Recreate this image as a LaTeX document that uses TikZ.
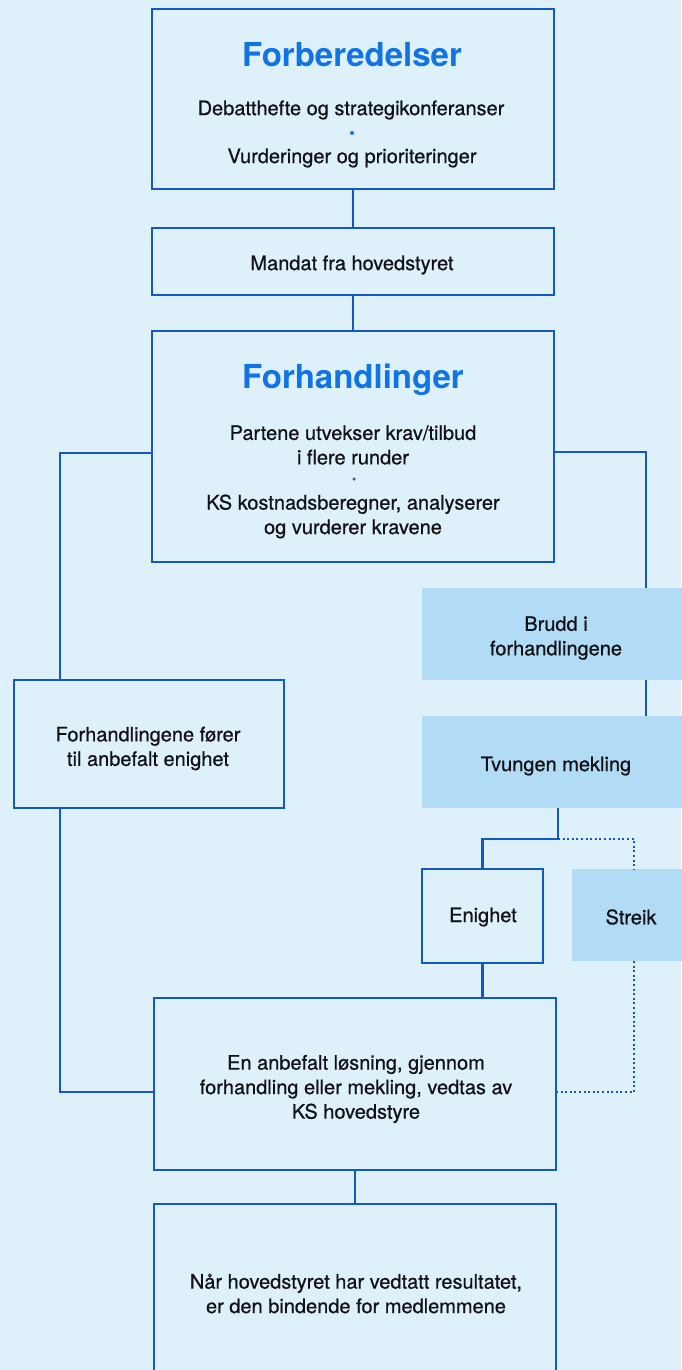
\documentclass[tikz,border=0pt]{standalone}
\usepackage{fontspec}
\setmainfont{TeX Gyre Heros}
\newfontfamily\medfont{TeX Gyre Heros}[FakeBold=0.7]
\definecolor{bgblue}{RGB}{222,241,251}
\definecolor{shade}{RGB}{178,219,245}
\definecolor{lineblue}{RGB}{20,88,196}
\definecolor{titleblue}{RGB}{16,116,228}
\definecolor{textcol}{RGB}{18,18,22}
\definecolor{dotgrey}{RGB}{70,90,130}
\tikzset{
  box/.style={draw=lineblue, line width=2.6pt, outer sep=0pt, inner sep=0pt},
  shadebox/.style={fill=shade, draw=none, outer sep=0pt, inner sep=0pt},
  conn/.style={draw=lineblue, line width=2.4pt},
  dotconn/.style={draw=lineblue, line width=2.4pt, dash pattern=on 2pt off 2.6pt},
  txt/.style={font=\medfont\fontsize{20}{24.5}\selectfont, align=center, inner sep=0pt, text=textcol},
  ttl/.style={font=\fontsize{33}{36}\selectfont\bfseries, inner sep=0pt, text=titleblue},
  bullet/.style={circle, inner sep=0pt, minimum size=4pt, draw=none}
}
\begin{document}
\begin{tikzpicture}[x=1pt,y=-1pt]
\useasboundingbox (0,0) rectangle (681,1370);
\fill[bgblue] (0,0) rectangle (681,1370);

% shaded boxes
\node[shadebox, minimum width=268pt, minimum height=92pt] (brudd) at (556,634) {};
\node[shadebox, minimum width=268pt, minimum height=92pt] (tvung) at (556,762) {};
\node[shadebox, minimum width=118pt, minimum height=92pt] (streik) at (631,915) {};

% framed boxes
\node[box, minimum width=402pt, minimum height=180pt] (forb) at (353,99) {};
\node[box, minimum width=402pt, minimum height=67pt] (mandat) at (353,261.5) {};
\node[box, minimum width=402pt, minimum height=231pt] (forh) at (353,446.5) {};
\node[box, minimum width=270pt, minimum height=128pt] (fl) at (149,744) {};
\node[box, minimum width=121pt, minimum height=94pt] (enig) at (482.5,916) {};
\node[box, minimum width=402pt, minimum height=172pt] (anbef) at (355,1084) {};
\node[box, minimum width=402pt, minimum height=186pt] (naar) at (355,1297) {};

% junction points
\coordinate (jl) at (60,453);
\coordinate (jl2) at (60,1092);
\coordinate (jr) at (646,452);
\coordinate (jt) at (558,839);
\coordinate (js) at (634,839);

% connectors
\draw[conn] (forb.south) -- (mandat.north);
\draw[conn] (mandat.south) -- (forh.north);
\draw[conn] (forh.west |- jl) -| (fl.north -| jl);
\draw[conn] (fl.south -| jl2) |- (anbef.west |- jl2);
\draw[conn] (forh.east |- jr) -| (brudd.north -| jr);
\draw[conn] (brudd.south -| jr) -- (tvung.north -| jr);
\draw[conn] (tvung.south -| jt) -- (jt) -| (enig.north);
\draw[dotconn] (jt) -- (js) -- (streik.north -| js);
\draw[dotconn] (streik.south -| js) |- (anbef.east |- jl2);
\draw[conn] (enig.south) -- (anbef.north -| enig.south);
\draw[conn] (anbef.south) -- (naar.north);

% texts
\node[ttl] (forbT) at (352,55) {Forberedelser};
\node[txt] (forbA) at (351,110) {Debatthefte og strategikonferanser};
\node[bullet, fill=titleblue] (forbDot) at (352,133) {};
\node[txt] (forbB) at (352,158) {Vurderinger og prioriteringer};
\node[txt] (mandatT) at (352,265) {Mandat fra hovedstyret};
\node[ttl] (forhT) at (353,380) {Forhandlinger};
\node[txt] (forhA) at (353,445) {Partene utvekser krav/tilbud\\i flere runder};
\node[bullet, minimum size=3.5pt, fill=dotgrey] (forhDot) at (354,479) {};
\node[txt] (forhB) at (353,516.5) {KS kostnadsberegner, analyserer\\og vurderer kravene};
\node[txt] (flT) at (148,748.5) {Forhandlingene fører\\til anbefalt enighet};
\node[txt] (bruddT) at (556,638) {Brudd i\\forhandlingene};
\node[txt] (tvungT) at (556,766) {Tvungen mekling};
\node[txt] (enigT) at (483,917) {Enighet};
\node[txt] (streikT) at (631,917) {Streik};
\node[txt] (anbefT) at (356,1089) {En anbefalt løsning, gjennom\\forhandling eller mekling, vedtas av\\KS hovedstyre};
\node[txt] (naarT) at (356,1293.5) {Når hovedstyret har vedtatt resultatet,\\er den bindende for medlemmene};
\end{tikzpicture}
\end{document}
